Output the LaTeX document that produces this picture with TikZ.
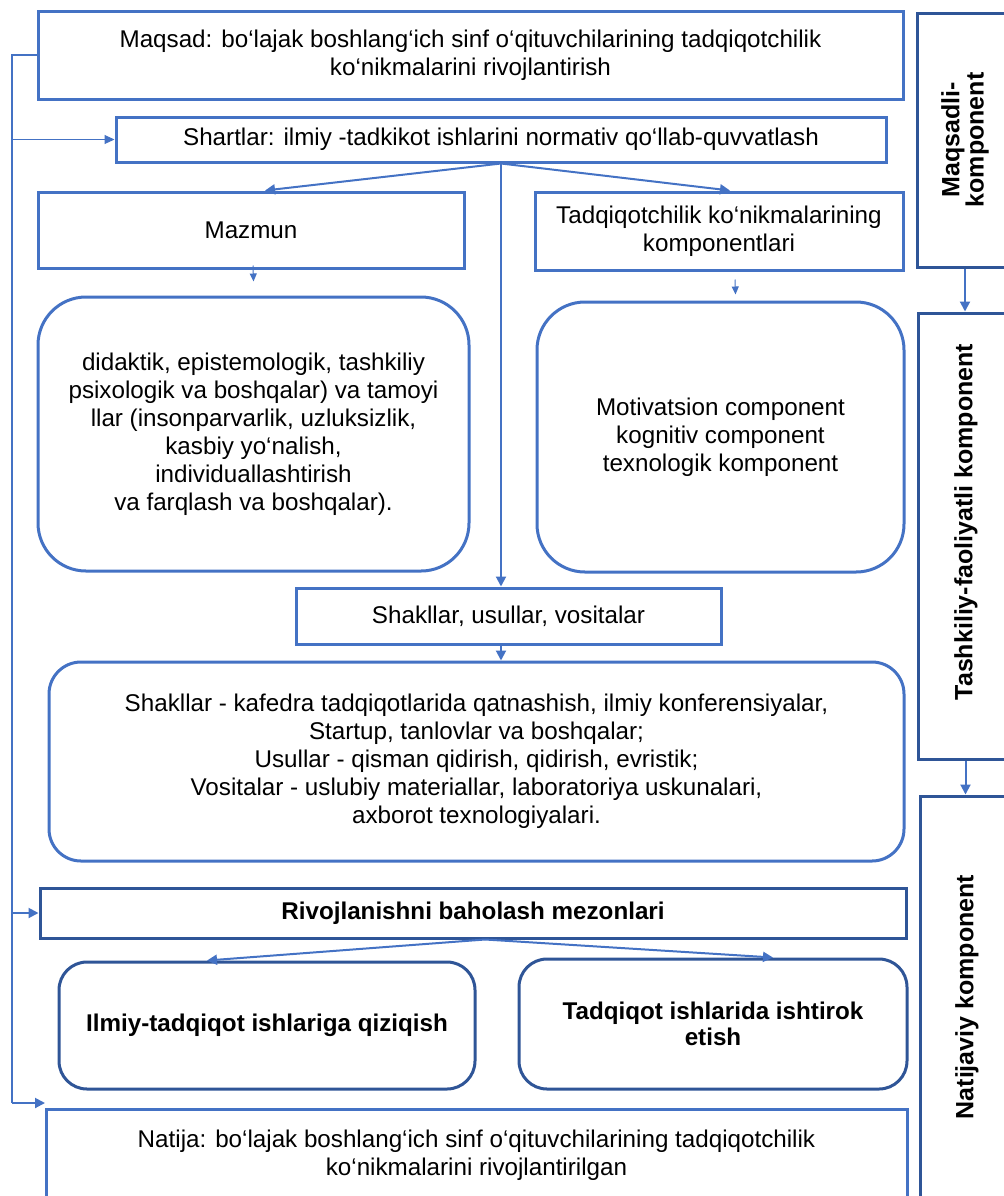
\documentclass[tikz,border=0pt]{standalone}
\usepackage{fontspec}
\setmainfont{Liberation Sans}
\usetikzlibrary{arrows.meta,calc}
\definecolor{boxblue}{HTML}{4472C4}
\definecolor{darkblue}{HTML}{2F5597}
\begin{document}
\begin{tikzpicture}[x=0.5pt,y=-0.5pt]
  \tikzstyle{sqbox}=[draw=boxblue, line width=1.5pt, inner sep=0pt, align=center,
    font=\fontsize{12.1}{14}\selectfont]
  \tikzstyle{rndbox}=[sqbox, rounded corners=24pt]
  \tikzstyle{darkbox}=[sqbox, draw=darkblue, font=\fontsize{12.1}{12.7}\selectfont\bfseries]
  \tikzstyle{sidebox}=[draw=darkblue, line width=1.5pt, inner sep=0pt]
  \tikzstyle{sidelbl}=[rotate=90, align=center, font=\fontsize{12.5}{12.2}\selectfont\bfseries]
  \tikzstyle{conn}=[draw=boxblue, line width=1pt]
  \tikzstyle{arr}=[conn, -{Triangle[width=5pt, length=5pt]}]
  \tikzstyle{thinarr}=[draw=boxblue, line width=0.5pt, -{Triangle[width=4.5pt, length=5pt]}]
  \tikzstyle{smallarr}=[draw=boxblue, line width=0.5pt, -{Triangle[width=3.5pt, length=4pt]}]
  \useasboundingbox (0,0) rectangle (1004,1196);
  \clip (0,0) rectangle (1004,1196);
  \node[sqbox, minimum width=432.5pt, minimum height=44pt] (maqsad) at (470.5,55)
    {Maqsad: bo‘lajak boshlang‘ich sinf o‘qituvchilarining tadqiqotchilik\\ko‘nikmalarini rivojlantirish};
  \node[sqbox, minimum width=385pt, minimum height=22.5pt] (shart) at (501,139.5)
    {Shartlar: ilmiy -tadkikot ishlarini normativ qo‘llab-quvvatlash};
  \node[sqbox, minimum width=213pt, minimum height=38pt] (mazmun) at (251,230) {Mazmun};
  \node[sqbox, minimum width=184pt, minimum height=39pt] (tadq) at (719,231)
    {Tadqiqotchilik ko‘nikmalarining\\komponentlari};
  \node[rndbox, minimum width=215.5pt, minimum height=137pt] (tamoyil) at (253.5,434)
    {didaktik, epistemologik, tashkiliy\\psixologik va boshqalar) va tamoyi\\llar (insonparvarlik, uzluksizlik,\\kasbiy yo‘nalish,\\individuallashtirish\\va farqlash va boshqalar).};
  \node[rndbox, minimum width=183.5pt, minimum height=135pt] (kompon) at (720.5,437)
    {Motivatsion component\\kognitiv component\\texnologik komponent};
  \node[sqbox, minimum width=212.5pt, minimum height=28pt] (shakl) at (508.5,616)
    {Shakllar, usullar, vositalar};
  \node[sqbox, rounded corners=16pt, minimum width=427.5pt, minimum height=99.5pt] (vosita) at (476.5,761.5)
    {Shakllar - kafedra tadqiqotlarida qatnashish, ilmiy konferensiyalar,\\Startup, tanlovlar va boshqalar;\\Usullar - qisman qidirish, qidirish, evristik;\\Vositalar - uslubiy materiallar, laboratoriya uskunalari,\\axborot texnologiyalari.};
  \node[darkbox, minimum width=433pt, minimum height=25pt] (mezon) at (473,913)
    {Rivojlanishni baholash mezonlari};
  \node[darkbox, rounded corners=14pt, minimum width=208pt, minimum height=63.5pt] (qiziq) at (267,1025.5)
    {Ilmiy-tadqiqot ishlariga qiziqish};
  \node[darkbox, rounded corners=14pt, minimum width=194pt, minimum height=65pt] (ishtirok) at (713,1024)
    {Tadqiqot ishlarida ishtirok\\etish};
  \node[sqbox, minimum width=430.5pt, minimum height=46pt] (natija) at (476.5,1155)
    {Natija: bo‘lajak boshlang‘ich sinf o‘qituvchilarining tadqiqotchilik\\ko‘nikmalarini rivojlantirilgan};
  \node[sidebox, minimum width=48pt, minimum height=127pt] (maqk) at (965,140) {};
  \node[sidebox, minimum width=47.5pt, minimum height=223pt] (tashk) at (965.5,536) {};
  \node[sidebox, minimum width=46.5pt, minimum height=227pt] (natk) at (966.5,1023) {};
  \node[sidelbl] (maqklbl) at (maqk.center) {Maqsadli-\\komponent};
  \node[sidelbl] (tashklbl) at (966,522) {Tashkiliy-faoliyatli komponent};
  \node[sidelbl] (natklbl) at (967,997) {Natijaviy komponent};
  \coordinate (lefttop) at (12,55);
  \coordinate (leftbot) at (12,1103);
  \coordinate (natin) at (45,1103);
  \draw[conn] (maqsad.west) -- (lefttop) -- (leftbot);
  \draw[arr] (leftbot) -- (natin);
  \draw[thinarr] (lefttop |- shart.west) -- (shart.west);
  \draw[arr] (lefttop |- mezon.west) -- (mezon.west);
  \draw[arr] (shart.south) -- ($(mazmun.north)+(14,0)$);
  \draw[arr] (shart.south) -- ($(tadq.north)+(11,0)$);
  \draw[arr] (shart.south) -- (shart.south |- shakl.north);
  \draw[smallarr] ($(mazmun.south)+(2,-4)$) -- ($(tamoyil.north)+(0,-14)$);
  \draw[smallarr] ($(tadq.south)+(16,8)$) -- ($(kompon.north)+(15,-6)$);
  \draw[arr] (shart.south |- shakl.south) -- (shart.south |- vosita.north);
  \draw[arr] ($(mezon.south)+(12,0)$) -- ($(qiziq.north)+(-60,0)$);
  \draw[arr] ($(mezon.south)+(12,0)$) -- ($(ishtirok.north)+(60,0)$);
  \draw[arr] (maqk.south) -- (maqk.south |- tashk.north);
  \draw[arr] (tashk.south) -- (tashk.south |- natk.north);
\end{tikzpicture}
\end{document}
